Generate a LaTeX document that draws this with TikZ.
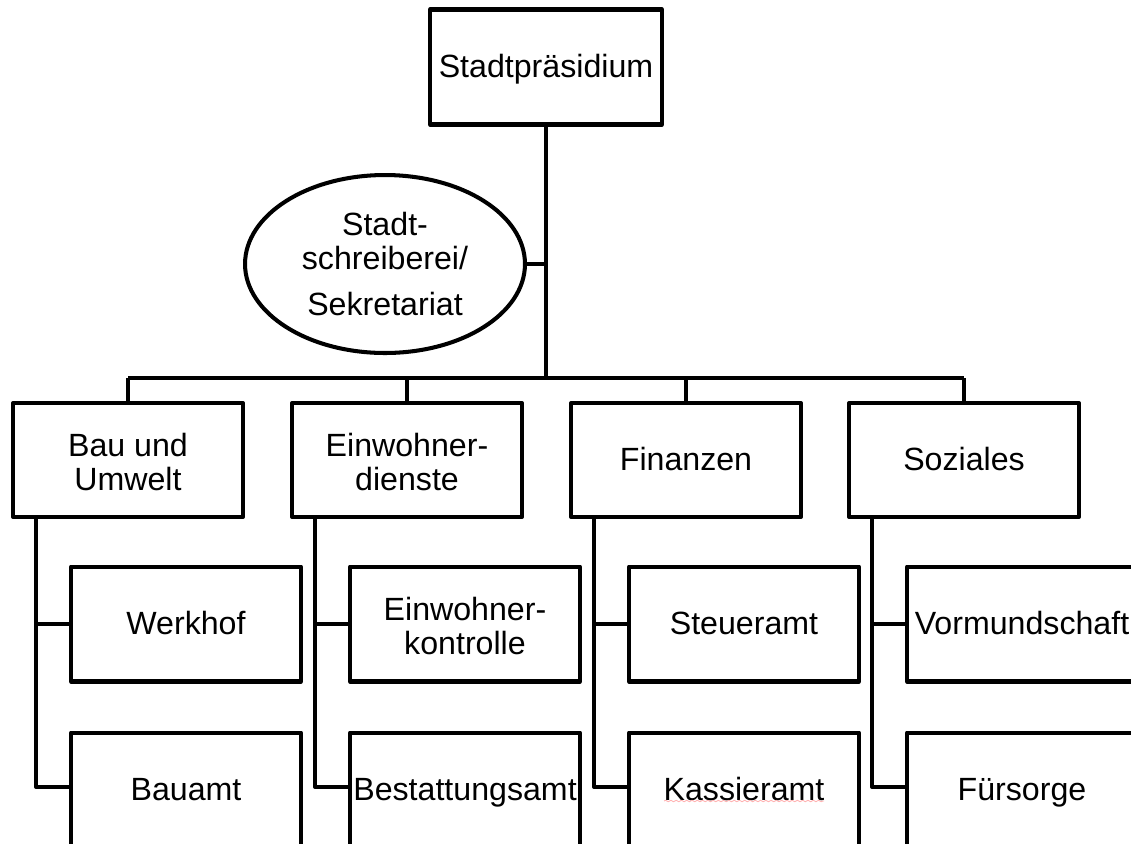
\documentclass[tikz,border=0pt]{standalone}
\usepackage{fontspec}
\setmainfont{Liberation Sans}
\usetikzlibrary{shapes.geometric,decorations.pathmorphing}

\newcommand{\lblstrut}{\vphantom{\"Ag}}

\begin{document}
\begin{tikzpicture}[x=0.02cm, y=-0.02cm, line width=2.3pt, line join=round,
	box/.style={draw, rectangle, minimum width=4.6cm, minimum height=2.28cm, inner sep=0pt, align=center, font=\fontsize{18.3}{19.4}\selectfont},
	oval/.style={draw, ellipse, minimum width=5.6cm, minimum height=3.56cm, inner sep=0pt, align=center, font=\fontsize{18.3}{19.4}\selectfont}]
		\clip (0,0) rectangle (1131,843);
		
		% Set the head of the chart
		\node[box, minimum width=4.64cm, minimum height=2.3cm] (praes) at (546,67) {\lblstrut Stadtpr\"asidium};
		\node[oval] (sekr) at (385,264) {Stadt-\\schreiberei/\\[0.25cm]Sekretariat};
		
		% Set the bus line
		\coordinate (busL) at (128,378);
		\coordinate (busR) at (964,378);
		\draw (praes) -- (praes |- busL);
		\draw (busL) -- (busR);
		\draw (sekr.east) -- (sekr.east -| praes);
		
		% Set the departments and their offices
		\foreach \name/\x/\txt/\suba/\subb in {bau/128/{Bau und\\Umwelt}/Werkhof/Bauamt, einw/407/{Einwohner-\\dienste}/{Einwohner-\\kontrolle}/Bestattungsamt, fin/686/Finanzen/Steueramt/Kassieramt, soz/964/Soziales/Vormundschaft/F\"ursorge}
		{
		\node[box] (\name) at (\x,460) {\lblstrut\txt};
		\node[box, minimum height=2.3cm] (\name1) at (\x+58,624) {\lblstrut\suba};
		\node[box, minimum height=2.3cm] (\name2) at (\x+58,790) {\lblstrut\subb};
		\coordinate (\name-v) at (\x-92,460);
		\draw (\name) -- (\name |- busL);
		\draw (\name.south -| \name-v) |- (\name1.west);
		\draw (\name.south -| \name-v) |- ([yshift=0.06cm]\name2.west);
		}
		
		% Spell check mark
		\draw[red!30, line width=0.5pt, decorate, decoration={snake, amplitude=0.4pt, segment length=3pt}] ([xshift=-1.6cm, yshift=-0.22cm]fin2.center) -- ([xshift=1.6cm, yshift=-0.22cm]fin2.center);
		
	\end{tikzpicture}
\end{document}
